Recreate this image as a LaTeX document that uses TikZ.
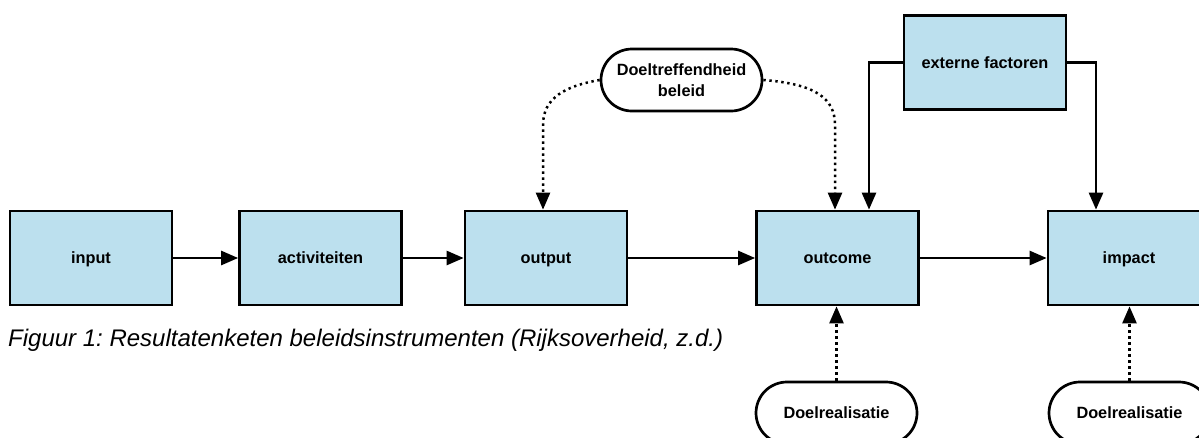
\documentclass[tikz,border=0pt]{standalone}
\usepackage{fontspec}
\setmainfont{Liberation Sans}
\frenchspacing
\usetikzlibrary{arrows.meta}
\definecolor{boxblue}{RGB}{188,224,238}
\tikzset{
  stage/.style={draw=black, line width=2.7pt, fill=boxblue, minimum width=162pt, minimum height=94pt, inner sep=0pt,
    text height=11.6pt, text depth=0pt, font=\fontsize{16.3}{19}\selectfont\bfseries},
  pill/.style={draw=black, line width=2.7pt, fill=white, rounded corners=31pt, minimum width=161pt, minimum height=62pt, inner sep=0pt, align=center,
    font=\fontsize{16.3}{21}\selectfont\bfseries},
  flow/.style={line width=2.6pt, -{Triangle[length=17pt,width=14pt]}},
  dotflow/.style={line width=2.5pt, dash pattern=on 2.4pt off 3.6pt, -{Triangle[length=17pt,width=14pt]}},
  caption/.style={anchor=base west, inner sep=0pt, font=\fontsize{24}{28}\selectfont\itshape}
}
\begin{document}
\begin{tikzpicture}[x=1pt, y=-1pt]
\useasboundingbox (0,0) rectangle (1199,437);
\clip (0,0) rectangle (1199,437);
\node[stage] (input) at (91,258) {input};
\node[stage] (act) at (320.5,258) {activiteiten};
\node[stage] (output) at (546,258) {output};
\node[stage] (outcome) at (837.5,258) {outcome};
\node[stage] (impact) at (1129,258) {impact};
\node[stage] (ext) at (985,62.5) {externe factoren};
\node[pill] (doel) at (681.5,80) {Doeltreffendheid\\beleid};
\node[pill] (real1) at (836.5,413) {Doelrealisatie};
\node[pill] (real2) at (1129.5,413) {Doelrealisatie};
\node[caption] (cap) at (8,346) {Figuur 1: Resultatenketen beleidsinstrumenten (Rijksoverheid, z.d.)};
\coordinate (lbend) at (543,125);
\coordinate (rbend) at (835,125);
\draw[flow] (input) -- (act);
\draw[flow] (act) -- (output);
\draw[flow] (output) -- (outcome);
\draw[flow] (outcome) -- (impact);
\draw[flow] (ext.west) -| ([xshift=31.5pt]outcome.north);
\draw[flow] (ext.east) -| ([xshift=-33pt]impact.north);
\draw[dotflow] (doel.west) .. controls (565,86) and (543,98) .. (lbend) -- ([xshift=-3pt]output.north);
\draw[dotflow] (doel.east) .. controls (815,84) and (835,98) .. (rbend) -- ([xshift=-2.5pt]outcome.north);
\draw[dotflow] (real1.north) -- (outcome.south -| real1.north);
\draw[dotflow] (real2.north) -- (impact.south -| real2.north);
\end{tikzpicture}
\end{document}
